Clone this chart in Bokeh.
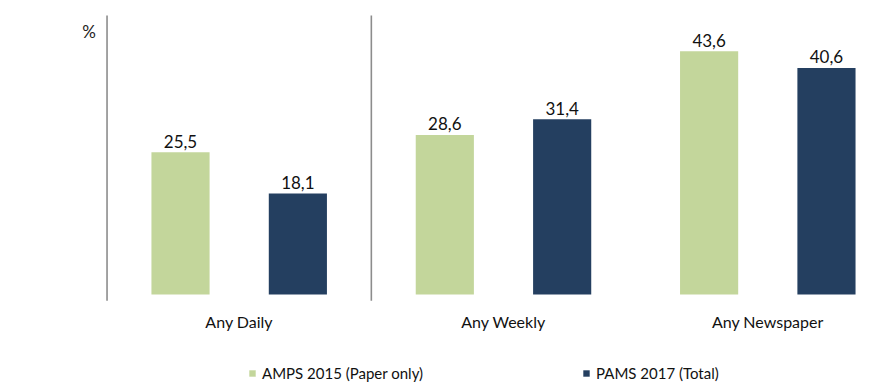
from bokeh.plotting import figure
from bokeh.models import ColumnDataSource, Range1d, Legend, LegendItem
from bokeh.core.properties import value
from bokeh.embed import file_html
from bokeh.resources import INLINE

# ---- data ----
categories = ["Any Daily", "Any Weekly", "Any Newspaper"]
series_names = ["AMPS 2015 (Paper only)", "PAMS 2017 (Total)"]
amps_2015 = [25.5, 28.6, 43.6]
pams_2017 = [18.1, 31.4, 40.6]
unit_label = "%"
axis_max = 50

# ---- style ----
GREEN = "#c3d69b"
NAVY = "#243f60"
LINE = "#8c8c8c"
FONT = "Lato"
W, H = 877, 385

xs = list(range(len(categories)))
dodge = 0.222
bar_w = 0.22

def fmt(v):
    return f"{v:.1f}".replace(".", ",")

p = figure(width=W, height=H, output_backend="svg", toolbar_location=None,
           x_range=Range1d(-0.9031, 2.4151), y_range=Range1d(-16.31, 52.69),
           min_border=0, min_border_left=0, min_border_right=0,
           min_border_top=0, min_border_bottom=0)
p.axis.visible = False
p.xgrid.visible = False
p.ygrid.visible = False
p.outline_line_color = None
p.background_fill_color = "white"
p.border_fill_color = "white"

src_a = ColumnDataSource(dict(x=[x - dodge for x in xs], top=amps_2015,
                              lab=[fmt(v) for v in amps_2015]))
src_p = ColumnDataSource(dict(x=[x + dodge for x in xs], top=pams_2017,
                              lab=[fmt(v) for v in pams_2017]))

r_a = p.vbar(x="x", top="top", bottom=0, width=bar_w, source=src_a,
             fill_color=GREEN, line_color=None)
r_p = p.vbar(x="x", top="top", bottom=0, width=bar_w, source=src_p,
             fill_color=NAVY, line_color=None)

for src in (src_a, src_p):
    p.text(x="x", y="top", text="lab", source=src, text_align="center",
           text_baseline="alphabetic", y_offset=-11,
           text_font=value(FONT), text_font_size="17px", text_color="#111111")

# separators: left axis line and line between first and second group
sep_x = [xs[0] - 0.5, xs[0] + 0.5]
p.segment(x0=sep_x, x1=sep_x, y0=[-1.1, -1.1], y1=[axis_max, axis_max],
          line_color=LINE, line_width=1.6)

# unit label
p.text(x=[sep_x[0]], y=[axis_max], text=[unit_label], text_align="center",
       text_baseline="alphabetic", x_offset=-18, y_offset=16,
       text_font=value(FONT), text_font_size="17px", text_color="#222222")

# category labels
p.text(x=xs, y=[0] * len(xs), text=categories, text_align="center",
       text_baseline="alphabetic", y_offset=27,
       text_font=value(FONT), text_font_size="16px", text_color="#111111")

# legends
for r, name, loc in ((r_a, series_names[0], (248, 3)),
                     (r_p, series_names[1], (582, 3))):
    lg = Legend(items=[LegendItem(label=name, renderers=[r])], location=loc,
                orientation="horizontal", glyph_width=8, glyph_height=8,
                label_standoff=6, padding=0, margin=0, spacing=0,
                label_height=16, border_line_color=None,
                background_fill_alpha=0,
                label_text_font=FONT, label_text_font_size="15px",
                label_text_color="#111111")
    p.add_layout(lg, "center")

open("out.html", "w").write(file_html(p, INLINE))
